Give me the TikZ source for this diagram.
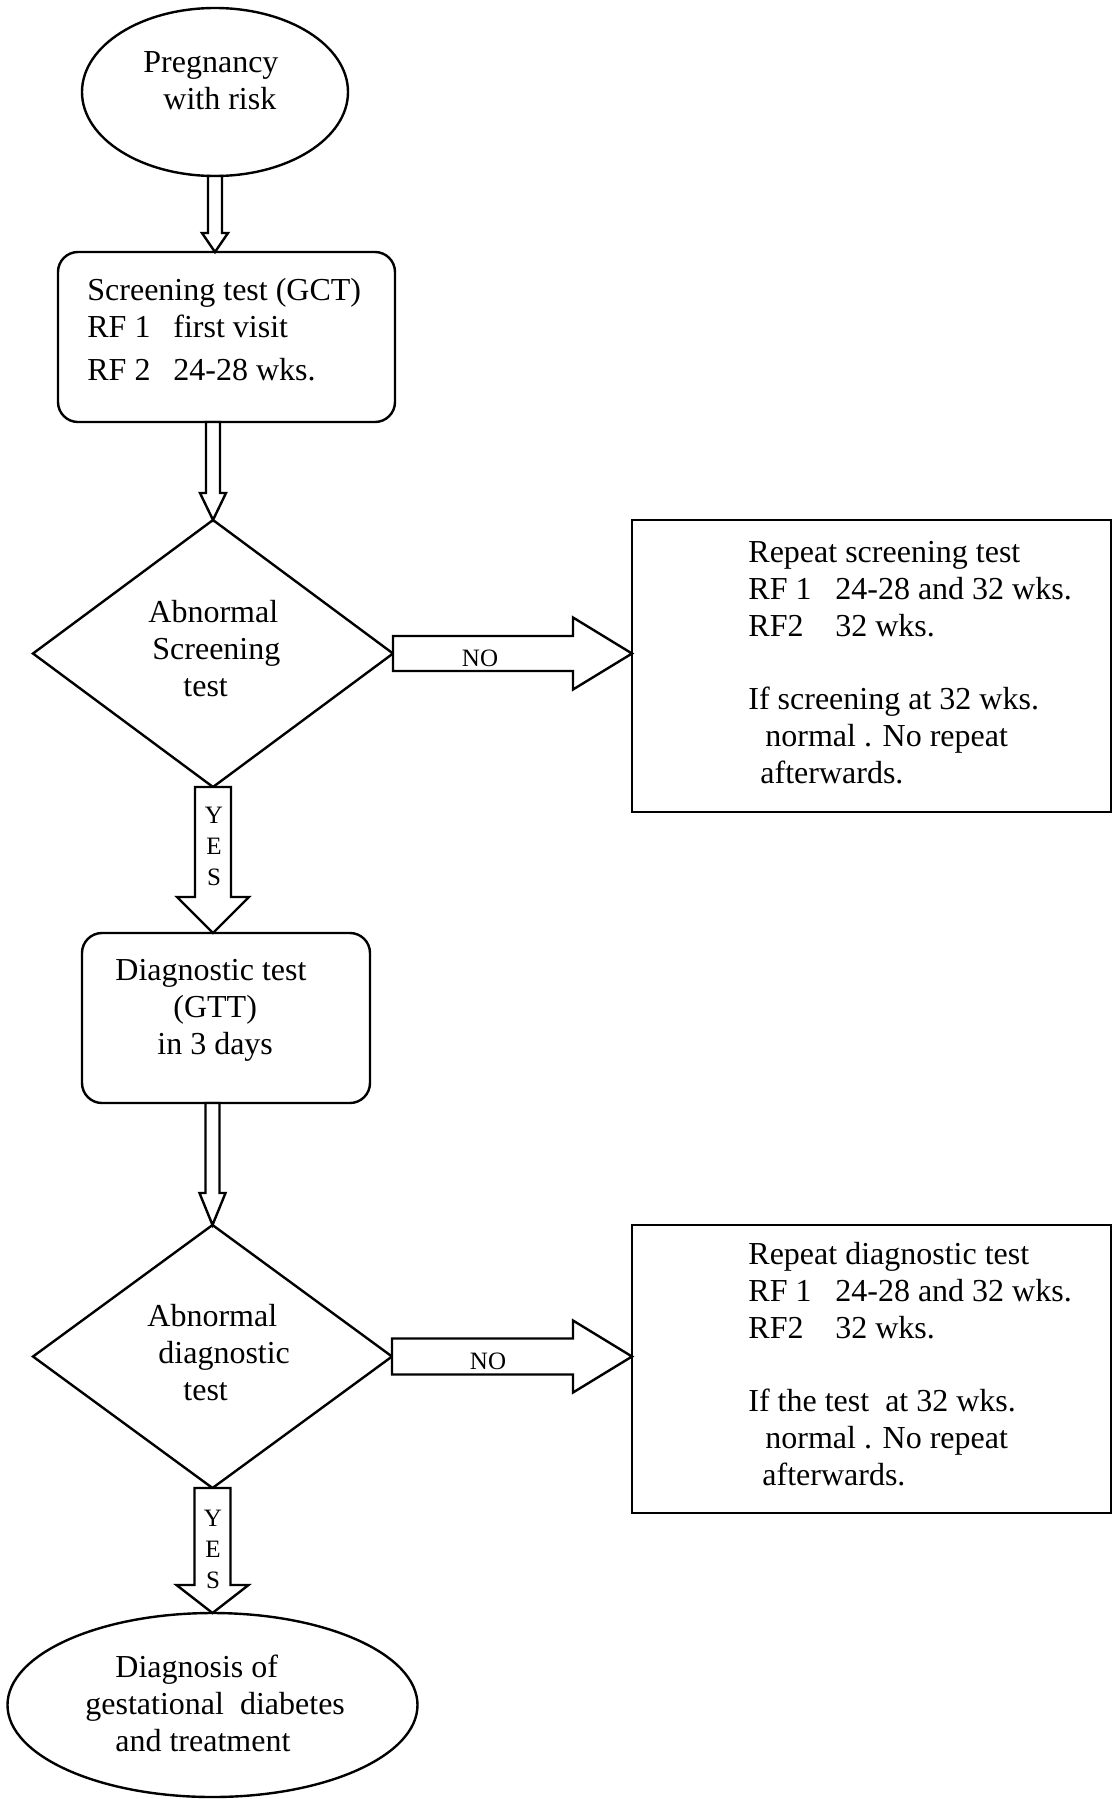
\documentclass[tikz,border=0pt]{standalone}
\usepackage{fontspec}
\setmainfont{Liberation Serif}
\usetikzlibrary{shapes.geometric,calc}
% vertical block arrow: start, end, shaft half-width, head half-width, head length
\newcommand{\vblock}[5]{\draw[blk] let \p1=(#1), \p2=(#2) in
  (\x1-#3,\y1) -- (\x1-#3,\y2+#5) -- (\x1-#4,\y2+#5) -- (\x1,\y2) --
  (\x1+#4,\y2+#5) -- (\x1+#3,\y2+#5) -- (\x1+#3,\y1) -- cycle;}
% horizontal block arrow (rightwards)
\newcommand{\hblock}[5]{\draw[blk] let \p1=(#1), \p2=(#2) in
  (\x1,\y1+#3) -- (\x2-#5,\y1+#3) -- (\x2-#5,\y1+#4) -- (\x2,\y1) --
  (\x2-#5,\y1-#4) -- (\x2-#5,\y1-#3) -- (\x1,\y1-#3) -- cycle;}
\begin{document}
\begin{tikzpicture}[x=0.5pt,y=-0.5pt,
  shp/.style={draw,line width=1.2pt,inner sep=0pt,outer sep=0pt},
  ell/.style={shp,ellipse},
  rbox/.style={shp,rectangle,rounded corners=10pt},
  sbox/.style={shp,rectangle},
  dia/.style={shp,diamond},
  blk/.style={draw,fill=white,line width=1.2pt,line join=miter},
  txt/.style={inner sep=0pt,anchor=north west,align=left,font=\fontsize{16pt}{18.4pt}\selectfont},
  lbl/.style={inner sep=0pt,font=\fontsize{12.5pt}{15.5pt}\selectfont}]

\useasboundingbox (0,0) rectangle (1113,1799);

% shapes
\node[ell,minimum width=133pt,minimum height=84pt] (e1) at (215,92) {};
\node[rbox,minimum width=168.5pt,minimum height=85pt] (b1) at (226.5,337) {};
\node[dia,minimum width=180pt,minimum height=133.5pt] (d1) at (213,653.5) {};
\node[sbox,minimum width=239.5pt,minimum height=146pt] (r1) at (871.5,666) {};
\node[rbox,minimum width=144pt,minimum height=85pt] (b2) at (226,1018) {};
\node[dia,minimum width=179.5pt,minimum height=131.5pt] (d2) at (212.5,1356.5) {};
\node[sbox,minimum width=239.5pt,minimum height=144pt] (r2) at (871.5,1369) {};
\node[ell,minimum width=205pt,minimum height=92pt] (e2) at (212.5,1705) {};

% texts
\node[txt] (te1) at (143,48) {\rule{0pt}{12pt}Pregnancy\\\hspace*{10pt}with risk};
\node[txt] (tb1) at (87,276) {\rule{0pt}{12pt}Screening test (GCT)\\
  \makebox[43pt][l]{RF 1}first visit\\[3pt]
  \makebox[43pt][l]{RF 2}24-28 wks.};
\node[txt] (td1) at (148,598) {\rule{0pt}{12pt}Abnormal\\\hspace*{2pt}Screening\\\hspace*{17.5pt}test};
\node[txt] (tr1) at (748,538) {\rule{0pt}{12pt}Repeat screening test\\
  \makebox[43.5pt][l]{RF 1}24-28 and 32 wks.\\
  \makebox[43.5pt][l]{RF2}32 wks.\\[18.4pt]
  If screening at 32 wks.\\
  \hspace*{8.5pt}normal . No repeat\\
  \hspace*{6pt}afterwards.};
\node[txt] (tb2) at (115,956) {\rule{0pt}{12pt}Diagnostic test\\\hspace*{29pt}(GTT)\\\hspace*{21pt}in 3 days};
\node[txt] (td2) at (147,1302) {\rule{0pt}{12pt}Abnormal\\\hspace*{5.5pt}diagnostic\\\hspace*{18pt}test};
\node[txt] (tr2) at (748,1240) {\rule{0pt}{12pt}Repeat diagnostic test\\
  \makebox[43.5pt][l]{RF 1}24-28 and 32 wks.\\
  \makebox[43.5pt][l]{RF2}32 wks.\\[18.4pt]
  If the test\ \ at 32 wks.\\
  \hspace*{8.5pt}normal . No repeat\\
  \hspace*{7pt}afterwards.};
\node[txt] (te2) at (85,1653) {\rule{0pt}{12pt}\hspace*{15pt}Diagnosis of\\gestational\ \ diabetes\\\hspace*{15pt}and treatment};

% block arrows
\vblock{e1.south}{b1.north}{3.5pt}{6.5pt}{9.5pt}
\vblock{b1.south -| d1.north}{d1.north}{3.5pt}{6.5pt}{13.5pt}
\vblock{d1.south}{b2.north}{9pt}{18pt}{18pt}
\vblock{b2.south -| d2.north}{d2.north}{3.5pt}{6.5pt}{16pt}
\vblock{d2.south}{e2.north}{9pt}{18pt}{14pt}
\hblock{d1.east}{r1.west}{8.75pt}{18pt}{29.5pt}
\hblock{d2.east}{r2.west}{9pt}{18pt}{29.5pt}

% arrow labels
\node[lbl,anchor=base] (no1) at (480,666) {NO};
\node[lbl,anchor=base] (no2) at (488,1369) {NO};
\node[lbl,anchor=north,align=center] (yes1) at (214,803) {\rule{0pt}{10pt}Y\\E\\S};
\node[lbl,anchor=north,align=center] (yes2) at (213,1506) {\rule{0pt}{10pt}Y\\E\\S};
\end{tikzpicture}
\end{document}
